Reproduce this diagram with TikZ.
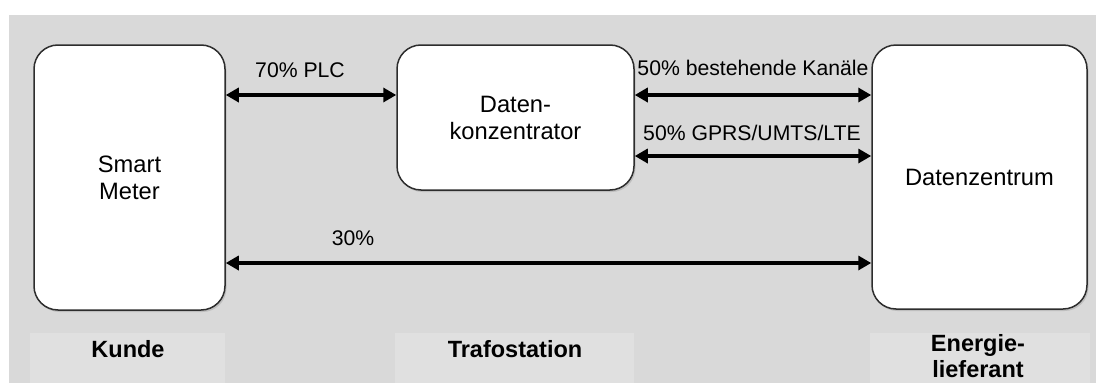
\documentclass[tikz,border=0pt]{standalone}
\usepackage{fontspec}
\setmainfont{Liberation Sans}
\usetikzlibrary{arrows.meta,shadows}
\definecolor{bggray}{RGB}{217,217,217}
\definecolor{labelgray}{RGB}{224,224,224}
\definecolor{boxline}{RGB}{45,45,45}

\begin{document}
\begin{tikzpicture}
  [x=1pt,y=-1pt,every node/.style={align=center,inner sep=0pt}]
  \tikzstyle{unit} = [draw=boxline,line width=1.5pt,fill=white,rounded corners=24pt,
                      font=\fontsize{23.7}{27}\selectfont,
                      drop shadow={opacity=0.3,shadow xshift=1.5pt,shadow yshift=-2pt}]
  \tikzstyle{link} = [line width=4pt,{Triangle[length=13pt,width=14pt]}-{Triangle[length=13pt,width=14pt]}]
  \tikzstyle{rate} = [font=\fontsize{21.2}{25}\selectfont]
  \tikzstyle{place} = [font=\fontsize{23.5}{26}\selectfont\bfseries,anchor=north]

  \useasboundingbox (0,0) rectangle (1096,383);
  \fill[bggray] (9,15) rectangle (1096,383);
  \fill[labelgray] (30,333) rectangle (225,383);
  \fill[labelgray] (395,333) rectangle (634,383);
  \fill[labelgray] (870,333) rectangle (1090,383);

  \node[unit,minimum width=191pt,minimum height=265pt] (sm) at (129.5,177.5) {Smart\\Meter};
  \node[unit,minimum width=237pt,minimum height=145pt] (dk) at (515.5,117.5) {Daten-\\konzentrator};
  \node[unit,minimum width=215pt,minimum height=264pt] (dz) at (979.5,177) {Datenzentrum};

  \coordinate (plc) at (0,95);
  \coordinate (bk) at (0,95);
  \coordinate (gp) at (0,156);
  \coordinate (dir) at (0,263);

\foreach \src/\dst/\lvl in {sm/dk/plc,dk/dz/bk,dk/dz/gp,sm/dz/dir}
   \draw[link] (\src.east |- \lvl) -- (\dst.west |- \lvl);

  \node[rate] (lplc) at (300,70) {70\% PLC};
  \node[rate] (lbk) at (753,68) {50\% bestehende Kanäle};
  \node[rate] (lgp) at (752,133) {50\% GPRS/UMTS/LTE};
  \node[rate] (ldir) at (353,238) {30\%};

  \node[place] (kunde) at (128,340) {Kunde};
  \node[place] (trafo) at (515,340) {Trafostation};
  \node[place] (energie) at (978,334) {Energie-\\lieferant};

  \end{tikzpicture}
\end{document}
